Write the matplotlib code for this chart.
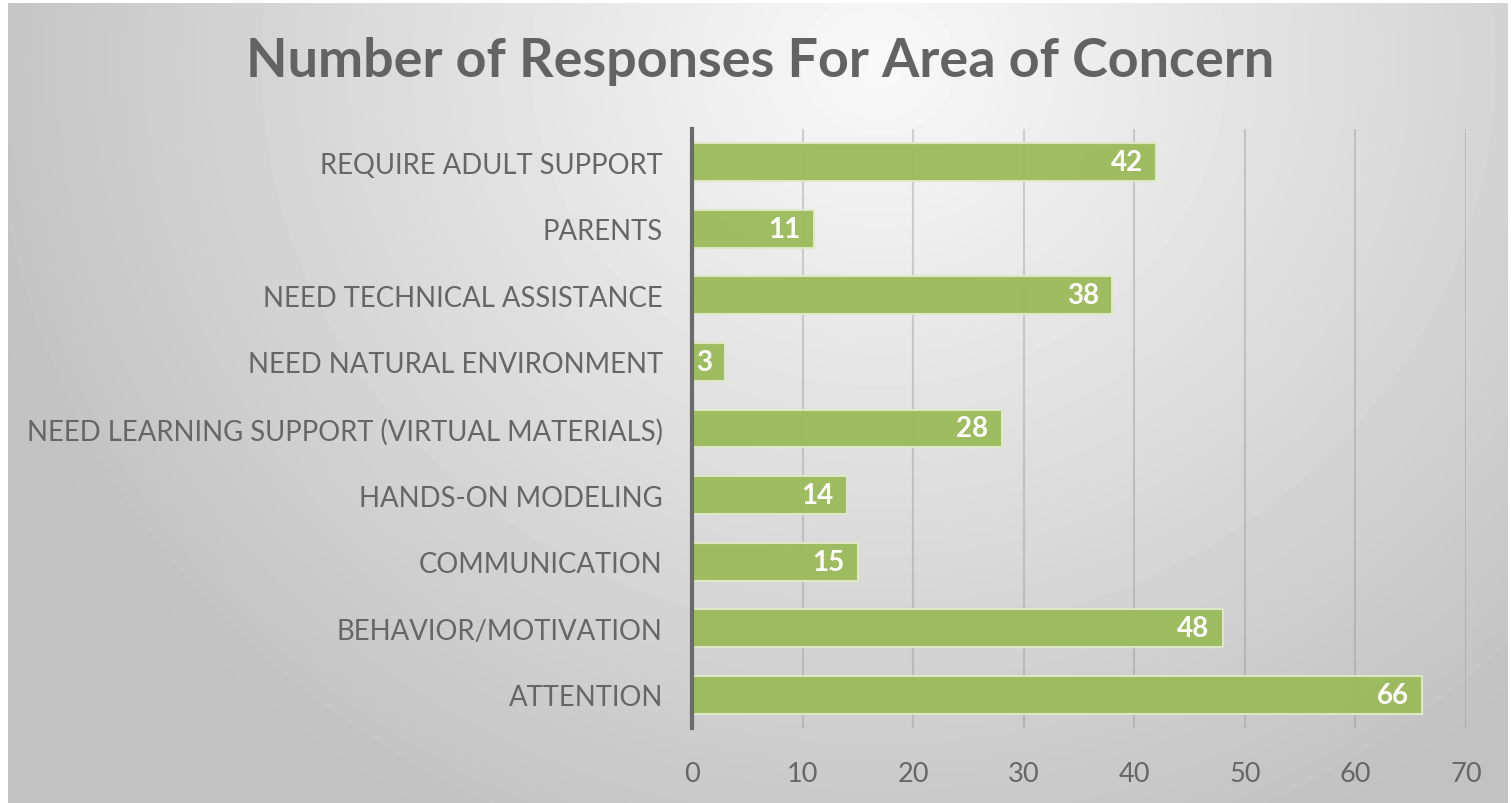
import numpy as np
import matplotlib

matplotlib.use("Agg")
import matplotlib.pyplot as plt

categories = [
    "ATTENTION",
    "BEHAVIOR/MOTIVATION",
    "COMMUNICATION",
    "HANDS-ON MODELING",
    "NEED LEARNING SUPPORT (VIRTUAL MATERIALS)",
    "NEED NATURAL ENVIRONMENT",
    "NEED TECHNICAL ASSISTANCE",
    "PARENTS",
    "REQUIRE ADULT SUPPORT",
]
responses = [66, 48, 15, 14, 28, 3, 38, 11, 42]
x_ticks = [0, 10, 20, 30, 40, 50, 60, 70]

plt.rcParams["font.family"] = ["Lato", "DejaVu Sans"]
text_grey = "#666666"

W, H = 1511, 804
fig = plt.figure(figsize=(W / 100, H / 100), dpi=100)
fig.patch.set_facecolor("white")

# radial grey gradient behind the whole chart area
bg = fig.add_axes([8 / W, 0, 1500 / W, 1 - 4 / H], zorder=-10)
yy, xx = np.mgrid[0:800, 0:1500]
r = np.hypot((xx - 870) / 820.0, (yy - 60) / 760.0)
shade = np.clip(0.975 - 0.19 * r, 0.76, 1.0)
bg.imshow(shade, cmap="gray", vmin=0, vmax=1, aspect="auto", interpolation="bilinear")
bg.set_axis_off()

ax = fig.add_axes([692 / W, 1 - 729 / H, (1466 - 692) / W, (729 - 130) / H])
ax.patch.set_alpha(0)

y = np.arange(len(categories))
ax.barh(y, responses, height=0.57, color="#9bbb59", alpha=0.95,
        edgecolor="#dfe9c8", linewidth=1.5, zorder=3)
for yi, v in zip(y, responses):
    ax.text(v - 1.2, yi, str(v), ha="right", va="center", color="white",
            fontsize=20, fontweight="bold", zorder=4)

ax.set_xlim(0, 70)
ax.set_ylim(-0.5, len(categories) - 0.5)
ax.set_xticks(x_ticks)
ax.set_yticks(y)
ax.set_yticklabels(categories)
ax.tick_params(axis="both", length=0, labelcolor=text_grey)
ax.tick_params(axis="y", labelsize=19.8, pad=21)
ax.tick_params(axis="x", labelsize=19.5, pad=24)
ax.xaxis.grid(True, color="#8c8c8c", alpha=0.35, linewidth=1.5, zorder=1)
for side in ("top", "right", "bottom"):
    ax.spines[side].set_visible(False)
ax.spines["left"].set_color("#6b6b6b")
ax.spines["left"].set_linewidth(3)
ax.spines["left"].set_zorder(5)

fig.text(760 / W, 1 - 62 / H, "Number of Responses For Area of Concern",
         ha="center", va="center", fontsize=38.8, fontweight="bold", color="#636363")

fig.savefig("out.png", dpi=100)
